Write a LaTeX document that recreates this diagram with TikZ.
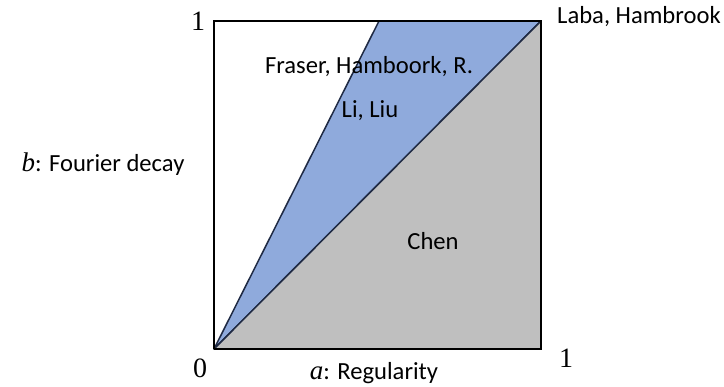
\documentclass[tikz,border=0pt]{standalone}
\usepackage{fontspec}
\setmainfont{Carlito}
\newfontfamily\numfont{Liberation Serif}
\definecolor{bluefill}{HTML}{8FAADC}
\definecolor{grayfill}{HTML}{BFBFBF}
\definecolor{edge}{HTML}{1F2A44}
\newcommand{\mvar}[1]{{\numfont\itshape\fontsize{27}{30}\selectfont #1}}
\begin{document}
\begin{tikzpicture}[x=1pt,y=-1pt,
  lbl/.style={inner sep=0pt,font=\fontsize{24.6}{28}\selectfont},
  num/.style={inner sep=0pt,font=\numfont\fontsize{28}{32}\selectfont},
  region/.style={draw=edge,line width=1.5pt,line join=round}]
\useasboundingbox (0,0) rectangle (724,387);
\coordinate (O) at (214,349);
\coordinate (TL) at (214,21);
\coordinate (TM) at (379,21);
\coordinate (TR) at (541,21);
\coordinate (BR) at (541,349);
\filldraw[region,fill=bluefill] (O) -- (TM) -- (TR) -- cycle;
\filldraw[region,fill=grayfill] (O) -- (TR) -- (BR) -- cycle;
\draw[black,line width=2pt] (TM) -- (TR) -- (BR) -- (O);
\draw[black,line width=2pt] (TM) -- (TL) -- (O);
\node[num] (one) at (198,21) {1};
\node[num] (zero) at (200,368) {0};
\node[num] (oneb) at (566,358) {1};
\node[lbl,anchor=west] (laba) at (557,17) {Laba, Hambrook};
\node[lbl] (fraser) at (369,67) {Fraser, Hamboork, R.};
\node[lbl] (li) at (370,111) {Li, Liu};
\node[lbl] (chen) at (433,241) {Chen};
\node[lbl] (b) at (103,164) {\mvar{b}: Fourier decay};
\node[lbl] (a) at (374,373) {\mvar{a}: Regularity};
\end{tikzpicture}
\end{document}
